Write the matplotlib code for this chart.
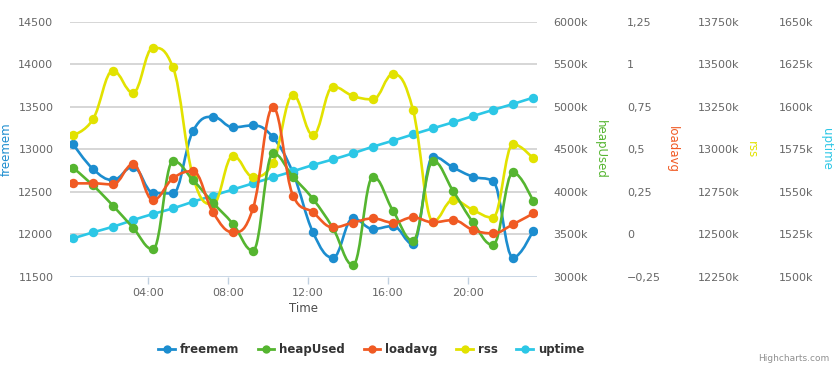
#!/usr/bin/env python3

import numpy as np
import matplotlib
matplotlib.use("Agg")
import matplotlib.pyplot as plt
from matplotlib.path import Path
from matplotlib.patches import PathPatch
from matplotlib.lines import Line2D

# hourly samples, hours after midnight
hours = [h + 0.25 for h in range(24)]

freemem = [13061, 12767, 12637, 12794, 12488, 12480, 13214, 13382, 13257, 13280,
           13139, 12720, 12022, 11724, 12186, 12061, 12096, 11884, 12912, 12786,
           12676, 12625, 11724, 12041]
heap_used = [4282, 4075, 3835, 3576, 3322, 4361, 4137, 3870, 3620, 3306,
             4451, 4176, 3914, 3570, 3137, 4176, 3776, 3424, 4361, 4012,
             3639, 3373, 4227, 3890]  # k
loadavg = [0.299, 0.299, 0.293, 0.411, 0.201, 0.329, 0.371, 0.128, 0.011, 0.152,
           0.746, 0.227, 0.128, 0.040, 0.068, 0.093, 0.068, 0.099, 0.070, 0.083,
           0.025, 0.005, 0.058, 0.122]
rss = [13083, 13176, 13462, 13332, 13597, 13481, 12838, 12677, 12962, 12838,
       12921, 13319, 13083, 13368, 13313, 13293, 13442, 13231, 12574, 12701,
       12642, 12597, 13030, 12946]  # k
uptime = [1522.5, 1526.1, 1529.4, 1533.3, 1536.9, 1540.2, 1544.1, 1547.7, 1551.3, 1554.9,
          1558.5, 1562.0, 1565.7, 1569.0, 1572.6, 1576.5, 1580.0, 1583.7, 1587.3, 1590.8,
          1594.5, 1598.1, 1601.6, 1605.3]  # k

x_ticks = [4, 8, 12, 16, 20]
x_labels = ["04:00", "08:00", "12:00", "16:00", "20:00"]

freemem_ticks = [11500, 12000, 12500, 13000, 13500, 14000, 14500]
heap_ticks = [3000, 3500, 4000, 4500, 5000, 5500, 6000]
load_ticks = [-0.25, 0, 0.25, 0.5, 0.75, 1, 1.25]
load_labels = ["\u22120,25", "0", "0,25", "0,5", "0,75", "1", "1,25"]
rss_ticks = [12250, 12500, 12750, 13000, 13250, 13500, 13750]
uptime_ticks = [1500, 1525, 1550, 1575, 1600, 1625, 1650]

BLUE = "#1c8dcf"
GREEN = "#55b530"
ORANGE = "#f05a23"
YELLOW = "#e2e200"
CYAN = "#2cc7e6"
GRID = "#cfcfcf"
TXT = "#666666"


def spline_path(xs, ys):
    # same control point scheme as a highcharts spline series
    smoothing = 1.5
    denom = smoothing + 1
    n = len(xs)
    right = [None] * n
    left = [None] * n
    for i in range(1, n - 1):
        px, py = xs[i], ys[i]
        lx, ly = xs[i - 1], ys[i - 1]
        nx, ny = xs[i + 1], ys[i + 1]
        lcx = (smoothing * px + lx) / denom
        lcy = (smoothing * py + ly) / denom
        rcx = (smoothing * px + nx) / denom
        rcy = (smoothing * py + ny) / denom
        corr = ((rcy - lcy) * (rcx - px)) / (rcx - lcx) + py - rcy
        lcy += corr
        rcy += corr
        if lcy > ly and lcy > py:
            lcy = max(ly, py)
            rcy = 2 * py - lcy
        elif lcy < ly and lcy < py:
            lcy = min(ly, py)
            rcy = 2 * py - lcy
        if rcy > ny and rcy > py:
            rcy = max(ny, py)
            lcy = 2 * py - rcy
        elif rcy < ny and rcy < py:
            rcy = min(ny, py)
            lcy = 2 * py - rcy
        left[i] = (lcx, lcy)
        right[i] = (rcx, rcy)
    verts = [(xs[0], ys[0])]
    codes = [Path.MOVETO]
    for i in range(1, n):
        c1 = right[i - 1] or (xs[i - 1], ys[i - 1])
        c2 = left[i] or (xs[i], ys[i])
        verts += [c1, c2, (xs[i], ys[i])]
        codes += [Path.CURVE4] * 3
    return Path(verts, codes)


fig = plt.figure(figsize=(8.38, 3.71), dpi=100)
ax = fig.add_axes([70 / 838, 1 - 276.7 / 371, 467 / 838, 255 / 371])

axes = [ax]
for i in range(4):
    axes.append(ax.twinx())

series = [
    ("freemem", freemem, BLUE, freemem_ticks, [str(t) for t in freemem_ticks]),
    ("heapUsed", heap_used, GREEN, heap_ticks, ["%dk" % t for t in heap_ticks]),
    ("loadavg", loadavg, ORANGE, load_ticks, load_labels),
    ("rss", rss, YELLOW, rss_ticks, ["%dk" % t for t in rss_ticks]),
    ("uptime", uptime, CYAN, uptime_ticks, ["%dk" % t for t in uptime_ticks]),
]

# spine offsets (points) and title positions for the right-hand axes
offsets = [0, 53.3, 104.4, 162.7]
title_x = [1.135, 1.289, 1.46, 1.619]

# draw order: uptime under, then others
z_order = {"freemem": 5, "heapUsed": 4, "loadavg": 6, "rss": 3, "uptime": 2}

for k, (name, vals, col, ticks, labels) in enumerate(series):
    a = axes[k]
    a.set_ylim(ticks[0], ticks[-1])
    a.set_xlim(hours[0] - 0.15, hours[-1] + 0.2)
    a.set_yticks(ticks)
    a.set_yticklabels(labels)
    a.tick_params(axis="y", length=0, labelsize=8, labelcolor=TXT)
    for s in a.spines.values():
        s.set_visible(False)
    a.patch.set_visible(False)
    a.set_zorder(z_order[name])

    patch = PathPatch(spline_path(hours, vals), facecolor="none", edgecolor=col,
                      linewidth=1.9, capstyle="round", joinstyle="round")
    a.add_patch(patch)
    a.plot(hours, vals, linestyle="none", marker="o", markersize=6.8,
           color=col, markeredgewidth=0)

    if k == 0:
        a.tick_params(axis="y", pad=12)
        a.set_ylabel(name, color=col, fontsize=8.5, va="center")
        a.yaxis.set_label_coords(-0.137, 0.5)
    else:
        a.spines["right"].set_position(("outward", offsets[k - 1]))
        a.tick_params(axis="y", pad=11.5)
        a.set_ylabel(name, color=col, fontsize=8.5, rotation=270, va="center")
        a.yaxis.set_label_coords(title_x[k - 1], 0.5)

# grid lines and x axis on the base axis
ax.set_zorder(1)
ax.patch.set_visible(True)
for t in freemem_ticks[1:]:
    ax.axhline(t, color=GRID, linewidth=1.2, zorder=0)
ax.axhline(freemem_ticks[0], color="#c0d0e0", linewidth=1.2, zorder=0)
ax.set_xticks(x_ticks)
ax.set_xticklabels(x_labels)
ax.tick_params(axis="x", length=5, width=1, color="#c0d0e0", labelsize=8,
               labelcolor=TXT, pad=3)
ax.set_xlabel("Time", fontsize=8.5, color="#4d4d4d", labelpad=3)
for a in axes[1:]:
    a.tick_params(axis="x", bottom=False, labelbottom=False)

handles = [Line2D([], [], color=col, linewidth=2, marker="o", markersize=6,
                  markeredgewidth=0) for _, _, col, _, _ in series]
fig.legend(handles, [s[0] for s in series], loc="center", ncol=5,
           bbox_to_anchor=(0.443, 0.057), frameon=False, handlelength=1.4,
           handletextpad=0.4, columnspacing=1.6,
           prop={"size": 8.5, "weight": "bold"}, labelcolor="#333333")

fig.text(0.99, 0.035, "Highcharts.com", ha="right", va="center", fontsize=6.5,
         color="#909090")

fig.savefig("out.png", dpi=100, facecolor="white")
